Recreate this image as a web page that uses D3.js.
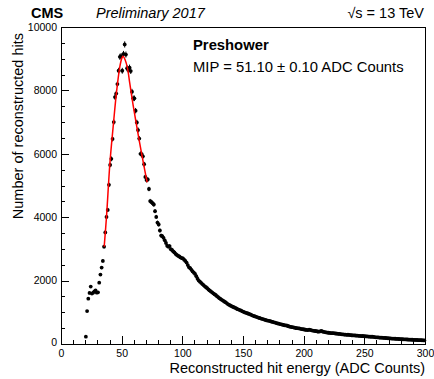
<!DOCTYPE html>
<html>
<head>
<meta charset="utf-8">
<script src="https://cdn.jsdelivr.net/npm/d3@7"></script>
<style>
  html, body { margin: 0; padding: 0; background: #fff; }
  svg { display: block; font-family: "Liberation Sans", Arial, Helvetica, sans-serif; }
</style>
</head>
<body>
<svg id="chart" width="434" height="379"></svg>
<script>
// ---- data ----
const binStart = 20;      // first bin lower edge (ADC counts)
const binWidth = 1;       // bin width (ADC counts)
// counts per bin, bins 20-21, 21-22, ... 299-300
const peakCounts = [
  230, 1040, 1430, 1610, 1810, 1590, 1620, 1660, 1690, 1620,
  1630, 1935, 2190, 2410, 2620, 3070, 3520, 4010, 4230, 5020,
  5650, 5840, 6470, 7000, 7790, 7900, 8200, 8620, 9060, 9080,
  8620, 9150, 9450, 9130, 8700, 8640, 8720, 8610, 7960, 7750,
  7750, 7360, 6990, 6750, 6480, 6000, 5990, 5920, 5670, 5270,
  5170, 5190, 4890, 4510, 4480, 4440, 4400, 4190, 4010, 3830
];
const tailCounts = [
  3770, 3580, 3420, 3400, 3350, 3270, 3190, 3100, 3070, 3090,
  2990, 2965, 2920, 2890, 2840, 2810, 2780, 2760, 2730, 2710,
  2700, 2660, 2620, 2570, 2490, 2420, 2390, 2340, 2290, 2250,
  2210, 2140, 2060, 2000, 1965, 1930, 1890, 1860, 1820, 1790,
  1760, 1720, 1690, 1660, 1630, 1600, 1570, 1545, 1510, 1480,
  1445, 1420, 1395, 1370, 1340, 1320, 1290, 1260, 1235, 1215,
  1195, 1175, 1160, 1140, 1120, 1100, 1085, 1070, 1050, 1030,
  1015, 995, 985, 970, 955, 945, 925, 905, 890, 875,
  865, 850, 835, 820, 810, 795, 785, 770, 760, 745,
  740, 730, 720, 705, 695, 685, 675, 660, 650, 640,
  630, 620, 610, 600, 590, 585, 575, 560, 550, 540,
  530, 525, 515, 505, 500, 495, 490, 480, 470, 465,
  458, 450, 445, 440, 455, 445, 430, 425, 415, 410,
  405, 395, 390, 400, 415, 395, 385, 375, 365, 360,
  355, 350, 345, 340, 345, 338, 332, 325, 320, 318,
  312, 305, 302, 298, 295, 290, 292, 285, 280, 276,
  272, 275, 268, 265, 262, 258, 255, 250, 252, 248,
  244, 240, 238, 235, 232, 228, 230, 222, 218, 212,
  210, 206, 204, 200, 198, 196, 192, 190, 186, 182,
  178, 176, 172, 170, 168, 165, 162, 160, 158, 155,
  152, 150, 148, 146, 145, 142, 140, 138, 136, 134,
  132, 130, 128, 126, 124, 122, 120, 118, 116, 112
];
// fitted function
const fitX = [35.6, 37.5, 40.3, 43.0, 45.8, 48.5, 50.1, 51.1, 52.9, 54.8, 56.7, 59.4, 62.2, 64.9, 67.7, 71.0];
const fitY = [3070, 4016, 5700, 6860, 7960, 8750, 9010, 9080, 8960, 8700, 8220, 7540, 6910, 6330, 5750, 5100];

const xTicks = [0, 50, 100, 150, 200, 250, 300];
const yTicks = [0, 2000, 4000, 6000, 8000, 10000];

// ---- layout ----
const svg = d3.select("#chart");
const L = 61, R = 425, T = 27, B = 344;
const x = d3.scaleLinear().domain([0, 300]).range([L, R]);
const y = d3.scaleLinear().domain([0, 10000]).range([B, T]);

const counts = peakCounts.concat(tailCounts);
const data = counts.map((c, i) => ({ lo: binStart + i * binWidth, hi: binStart + (i + 1) * binWidth, x: binStart + (i + 0.5) * binWidth, c }));

// frame
svg.append("rect").attr("x", L + 0.5).attr("y", T + 0.5).attr("width", R - L).attr("height", B - T)
  .attr("fill", "none").attr("stroke", "#000").attr("stroke-width", 1).attr("shape-rendering", "crispEdges");

// axes (ticks inside)
const xAxis = d3.axisBottom(x).tickValues(xTicks).tickSize(0).tickPadding(6).tickFormat(d3.format("d"));
const gx = svg.append("g").attr("transform", `translate(0,${B})`).call(xAxis);
gx.select(".domain").remove();
gx.selectAll("text").attr("font-size", 10.5).attr("font-family", "Liberation Sans, Arial, sans-serif").attr("fill", "#000");

const yAxis = d3.axisLeft(y).tickValues(yTicks).tickSize(0).tickPadding(4).tickFormat(d3.format("d"));
const gy = svg.append("g").attr("transform", `translate(${L},0)`).call(yAxis);
gy.select(".domain").remove();
gy.selectAll("text").attr("font-size", 10.5).attr("font-family", "Liberation Sans, Arial, sans-serif").attr("fill", "#000");
gy.selectAll(".tick").filter(d => d === 0).select("text").attr("dy", "0.1em");

// tick marks
const ticks = svg.append("g").attr("stroke", "#000").attr("stroke-width", 1).attr("shape-rendering", "crispEdges");
d3.range(0, 301, 10).forEach(v => {
  const len = v % 50 === 0 ? 8 : 4;
  ticks.append("line").attr("x1", Math.round(x(v)) + 0.5).attr("x2", Math.round(x(v)) + 0.5).attr("y1", B).attr("y2", B - len);
});
d3.range(0, 10001, 500).forEach(v => {
  const len = v % 2000 === 0 ? 8 : 4;
  ticks.append("line").attr("x1", L).attr("x2", L + len).attr("y1", Math.round(y(v)) + 0.5).attr("y2", Math.round(y(v)) + 0.5);
});

// data points with error bars
const pts = svg.append("g");
pts.selectAll("line.ey").data(data).join("line").attr("class", "ey")
  .attr("x1", d => x(d.x)).attr("x2", d => x(d.x))
  .attr("y1", d => y(d.c + Math.sqrt(d.c))).attr("y2", d => y(d.c - Math.sqrt(d.c)))
  .attr("stroke", "#000").attr("stroke-width", 1);
pts.selectAll("line.ex").data(data).join("line").attr("class", "ex")
  .attr("x1", d => x(d.lo)).attr("x2", d => x(d.hi))
  .attr("y1", d => y(d.c)).attr("y2", d => y(d.c))
  .attr("stroke", "#000").attr("stroke-width", 1);
pts.selectAll("circle").data(data).join("circle")
  .attr("cx", d => x(d.x)).attr("cy", d => y(d.c)).attr("r", 1.9).attr("fill", "#000");

// fit curve
const fit = fitX.map((v, i) => [v, fitY[i]]);
svg.append("path").datum(fit)
  .attr("d", d3.line().x(d => x(d[0])).y(d => y(d[1])).curve(d3.curveCatmullRom))
  .attr("fill", "none").attr("stroke", "#ff0000").attr("stroke-width", 1.5);

// axis titles
svg.append("text").attr("x", R).attr("y", 373).attr("text-anchor", "end")
  .attr("font-size", 14.5).text("Reconstructed hit energy (ADC Counts)");
svg.append("text").attr("transform", `translate(23,${T + 6}) rotate(-90)`).attr("text-anchor", "end")
  .attr("font-size", 14.5).text("Number of reconstructed hits");

// header
svg.append("text").attr("x", 31).attr("y", 18).attr("font-size", 14.5).attr("font-weight", "bold").text("CMS");
svg.append("text").attr("x", 96).attr("y", 18).attr("font-size", 14.5).attr("font-style", "italic").text("Preliminary 2017");
svg.append("text").attr("x", 424).attr("y", 18).attr("text-anchor", "end").attr("font-size", 14.5).text("√s = 13 TeV");

// legend texts
svg.append("text").attr("x", 193).attr("y", 50).attr("font-size", 14.8).attr("font-weight", "bold").text("Preshower");
svg.append("text").attr("x", 193).attr("y", 72).attr("font-size", 14.8).text("MIP = 51.10 ± 0.10 ADC Counts");
</script>
</body>
</html>
